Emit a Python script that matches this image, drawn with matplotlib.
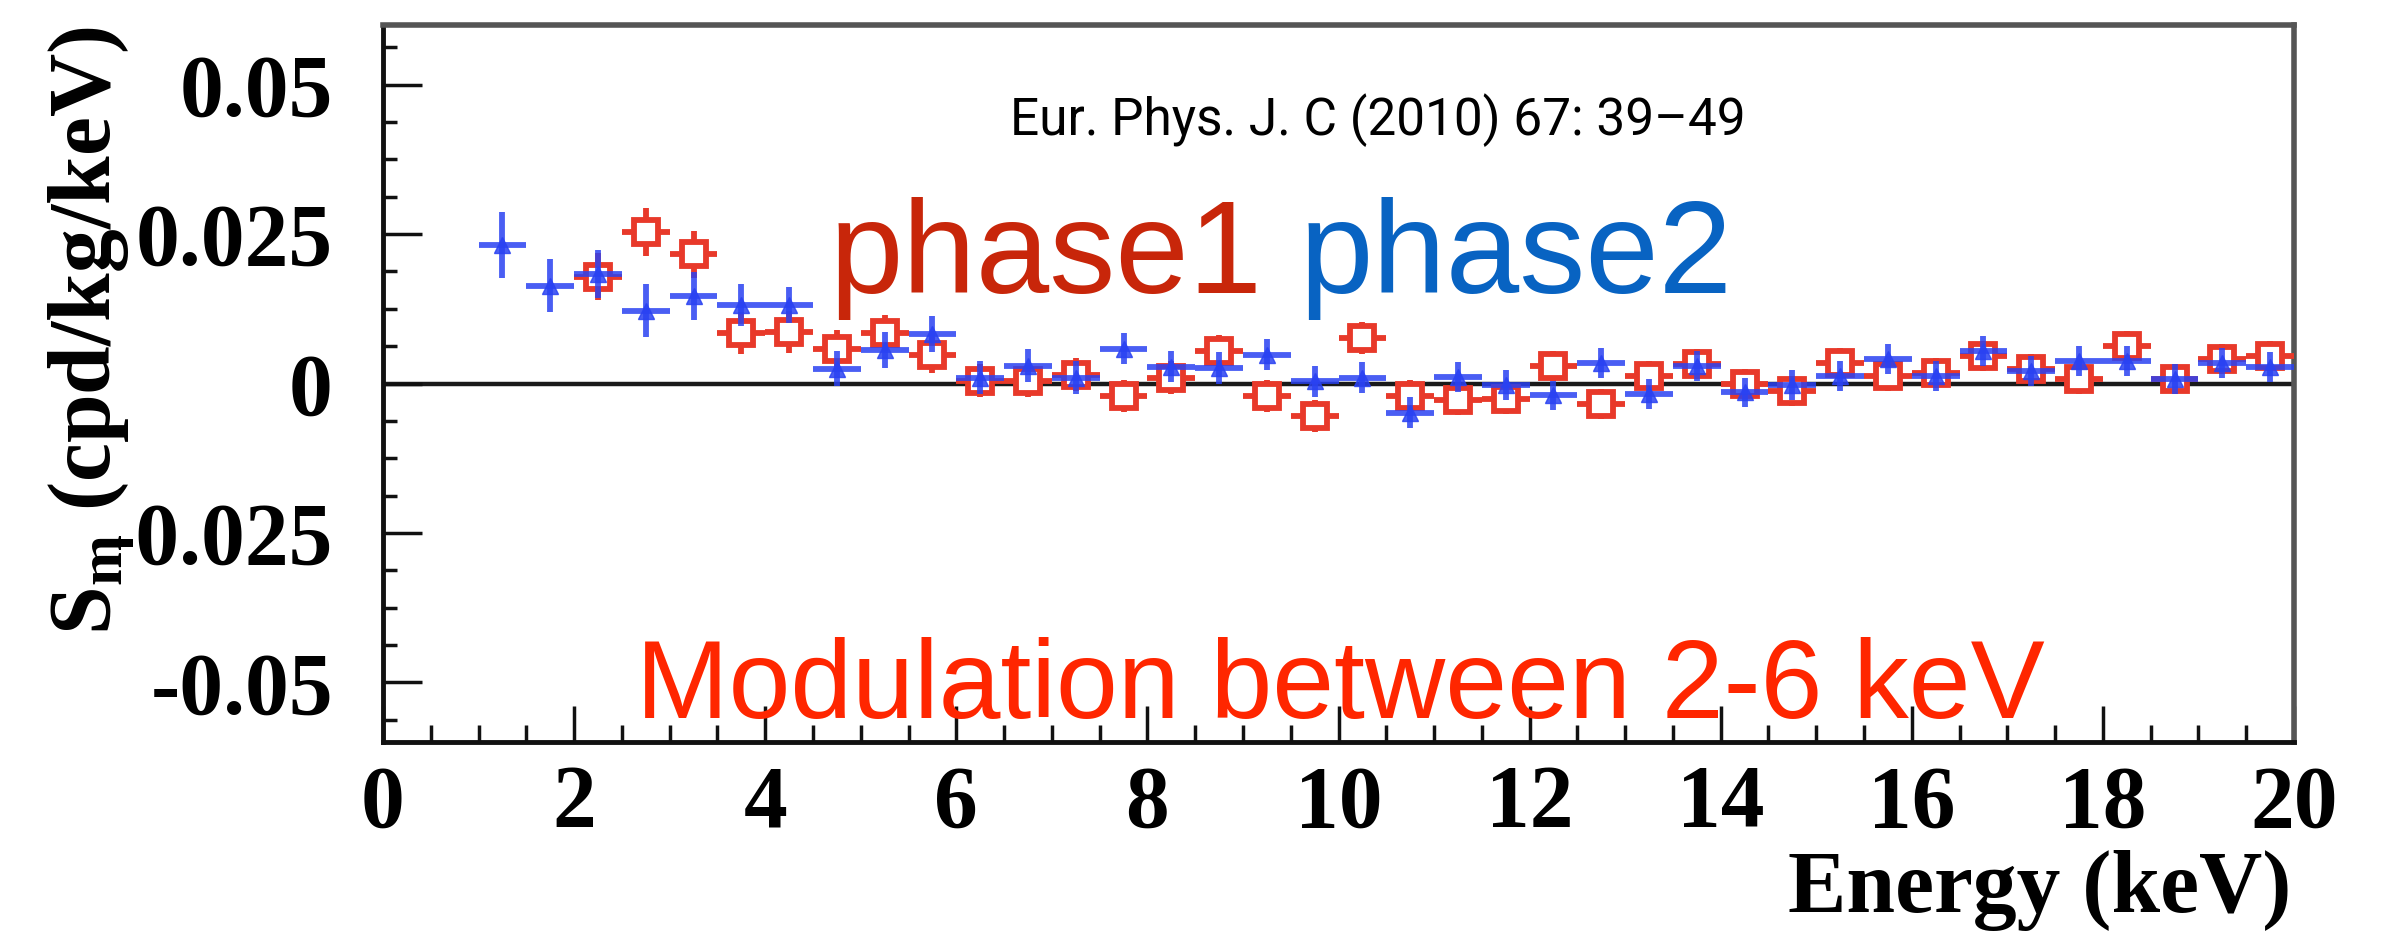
import matplotlib
matplotlib.use("Agg")
import matplotlib.pyplot as plt
import numpy as np
from matplotlib.ticker import MultipleLocator, FixedLocator, FixedFormatter

# ---- data ----
energy_phase2 = [1.25, 1.75, 2.25, 2.75, 3.25, 3.75, 4.25, 4.75, 5.25, 5.75,
                 6.25, 6.75, 7.25, 7.75, 8.25, 8.75, 9.25, 9.75, 10.25, 10.75,
                 11.25, 11.75, 12.25, 12.75, 13.25, 13.75, 14.25, 14.75, 15.25, 15.75,
                 16.25, 16.75, 17.25, 17.75, 18.25, 18.75, 19.25, 19.75]
sm_phase2 = [0.0232, 0.0164, 0.0183, 0.0122, 0.0146, 0.0132, 0.0132, 0.0025, 0.0056, 0.0083,
             0.0010, 0.0030, 0.0010, 0.0058, 0.0028, 0.0026, 0.0048, 0.0004, 0.0010, -0.0049,
             0.0011, -0.0002, -0.0020, 0.0035, -0.0018, 0.0030, -0.0015, -0.0003, 0.0013, 0.0041,
             0.0013, 0.0055, 0.0021, 0.0038, 0.0038, 0.0007, 0.0035, 0.0027]
err_phase2 = [0.0055, 0.0045, 0.0040, 0.0045, 0.0040, 0.0035, 0.0030, 0.0030, 0.0030, 0.0030,
              0.0027, 0.0027, 0.0027, 0.0026, 0.0026, 0.0026, 0.0026, 0.0026, 0.0026, 0.0026,
              0.0025, 0.0025, 0.0025, 0.0025, 0.0025, 0.0025, 0.0025, 0.0025, 0.0025, 0.0025,
              0.0025, 0.0025, 0.0025, 0.0025, 0.0025, 0.0025, 0.0025, 0.0025]

energy_phase1 = [2.25, 2.75, 3.25, 3.75, 4.25, 4.75, 5.25, 5.75,
                 6.25, 6.75, 7.25, 7.75, 8.25, 8.75, 9.25, 9.75, 10.25, 10.75,
                 11.25, 11.75, 12.25, 12.75, 13.25, 13.75, 14.25, 14.75, 15.25, 15.75,
                 16.25, 16.75, 17.25, 17.75, 18.25, 18.75, 19.25, 19.75]
sm_phase1 = [0.0179, 0.0254, 0.0216, 0.0084, 0.0086, 0.0057, 0.0084, 0.0047,
             0.0005, 0.0004, 0.0015, -0.0021, 0.0010, 0.0054, -0.0021, -0.0054, 0.0076, -0.0021,
             -0.0027, -0.0026, 0.0030, -0.0035, 0.0013, 0.0032, -0.0001, -0.0012, 0.0035, 0.0013,
             0.0018, 0.0046, 0.0024, 0.0007, 0.0063, 0.0007, 0.0041, 0.0046]
err_phase1 = [0.0040, 0.0040, 0.0040, 0.0035, 0.0035, 0.0033, 0.0030, 0.0030,
              0.0027, 0.0027, 0.0027, 0.0027, 0.0027, 0.0027, 0.0027, 0.0027, 0.0027, 0.0027,
              0.0025, 0.0025, 0.0025, 0.0025, 0.0025, 0.0025, 0.0025, 0.0025, 0.0025, 0.0025,
              0.0025, 0.0025, 0.0025, 0.0025, 0.0025, 0.0025, 0.0025, 0.0025]
bin_half_width = 0.25

y_ticks = [0.05, 0.025, 0.0, -0.025, -0.05]
y_tick_labels = ["0.05", "0.025", "0", "-0.025", "-0.05"]
x_ticks = [0, 2, 4, 6, 8, 10, 12, 14, 16, 18, 20]
x_tick_labels = ["0", "2", "4", "6", "8", "10", "12", "14", "16", "18", "20"]

# ---- figure ----
W, H, DPI = 2392, 936, 100
fig = plt.figure(figsize=(W / DPI, H / DPI), dpi=DPI)
fig.patch.set_facecolor("white")

plt.rcParams["mathtext.fontset"] = "custom"
plt.rcParams["mathtext.rm"] = "Liberation Serif:bold"
plt.rcParams["mathtext.bf"] = "Liberation Serif:bold"
plt.rcParams["mathtext.it"] = "Liberation Serif:bold"

ax_left, ax_right = 383 / W, 2294 / W
ax_bottom, ax_top = 1 - 742 / H, 1 - 25 / H
ax = fig.add_axes([ax_left, ax_bottom, ax_right - ax_left, ax_top - ax_bottom])

ax.set_xlim(0, 20)
ax.set_ylim(-0.06, 0.06)

red = "#E8392A"
blue = "#2A42F2"

ax.axhline(0, color="#1a1a1a", lw=3.2, zorder=1)

ax.errorbar(energy_phase1, sm_phase1, yerr=err_phase1, xerr=bin_half_width,
            fmt="s", ms=17, mfc="white", mec=red, mew=4.2,
            ecolor=red, elinewidth=4.2, capsize=0, zorder=3)
ax.errorbar(energy_phase2, sm_phase2, yerr=err_phase2, xerr=bin_half_width,
            fmt="^", ms=12, mfc=blue, mec=blue, mew=1,
            ecolor=blue, elinewidth=4.2, capsize=0, alpha=0.85, zorder=4)

# ticks
ax.xaxis.set_major_locator(FixedLocator(x_ticks))
ax.xaxis.set_major_formatter(FixedFormatter(x_tick_labels))
ax.xaxis.set_minor_locator(MultipleLocator(0.5))
ax.yaxis.set_major_locator(FixedLocator(y_ticks))
ax.yaxis.set_major_formatter(FixedFormatter(y_tick_labels))
ax.yaxis.set_minor_locator(MultipleLocator(0.00625))

ax.tick_params(axis="both", which="both", direction="in", top=False, right=False,
               color="#111111")
ax.tick_params(axis="x", which="major", length=26, width=2.5, pad=16)
ax.tick_params(axis="x", which="minor", length=12, width=2.5)
ax.tick_params(axis="y", which="major", length=28, width=2.5, pad=36)
ax.tick_params(axis="y", which="minor", length=10, width=2.5)

for lab in ax.get_xticklabels() + ax.get_yticklabels():
    lab.set_fontfamily("Liberation Serif")
    lab.set_fontweight("bold")
    lab.set_fontsize(63)

for s in ["left", "bottom"]:
    ax.spines[s].set_linewidth(3.5)
    ax.spines[s].set_color("#111111")
for s in ["top", "right"]:
    ax.spines[s].set_linewidth(4)
    ax.spines[s].set_color("#555555")

# axis titles
fig.text(2291 / W, 1 - 912 / H, "Energy (keV)", ha="right", va="baseline",
         fontfamily="Liberation Serif", fontweight="bold", fontsize=63)
fig.text(110 / W, 1 - 331 / H, r"S$_{\mathrm{m}}$ (cpd/kg/keV)", rotation=90,
         ha="center", va="baseline", rotation_mode="anchor",
         fontfamily="Liberation Serif", fontweight="bold", fontsize=63)

# annotations
fig.text(1378 / W, 1 - 135 / H, "Eur. Phys. J. C (2010) 67: 39\u201349",
         ha="center", va="baseline", fontsize=37, color="black",
         family=["Roboto", "DejaVu Sans"])
fig.text(830 / W, 1 - 293 / H, "phase1", ha="left", va="baseline",
         fontsize=95, color="#C8260A", family=["Liberation Sans", "DejaVu Sans"])
fig.text(1300 / W, 1 - 293 / H, "phase2", ha="left", va="baseline",
         fontsize=95, color="#0863C2", family=["Liberation Sans", "DejaVu Sans"])
fig.text(636 / W, 1 - 718 / H, "Modulation between 2-6 keV", ha="left", va="baseline",
         fontsize=80, color="#FF2600", family=["Liberation Sans", "DejaVu Sans"])

fig.savefig("out.png", dpi=DPI, facecolor="white")
